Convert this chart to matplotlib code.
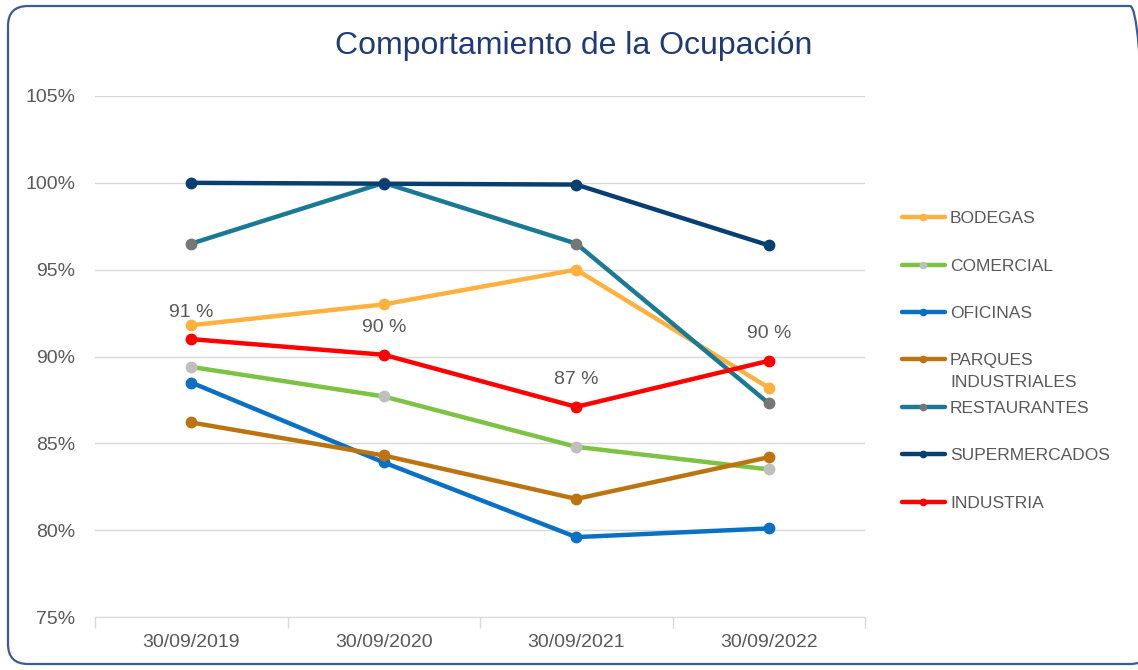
import matplotlib.pyplot as plt
from matplotlib.patches import FancyBboxPatch
from matplotlib.transforms import IdentityTransform
import numpy as np

plt.rcParams['font.family'] = ['Liberation Sans', 'DejaVu Sans']

title = "Comportamiento de la Ocupación"
fechas = ['30/09/2019', '30/09/2020', '30/09/2021', '30/09/2022']

bodegas = [91.8, 93.0, 95.0, 88.2]
comercial = [89.4, 87.7, 84.8, 83.5]
oficinas = [88.5, 83.9, 79.6, 80.1]
parques = [86.2, 84.3, 81.8, 84.2]
restaurantes = [96.5, 100.0, 96.5, 87.3]
supermercados = [100.0, 99.95, 99.9, 96.4]
industria = [91.0, 90.1, 87.1, 89.75]

series = [
    ('BODEGAS', bodegas, '#FFB140', '#FFB140'),
    ('COMERCIAL', comercial, '#7DC243', '#BFBFBF'),
    ('OFICINAS', oficinas, '#0A70C4', '#0A70C4'),
    ('PARQUES', parques, '#BC7410', '#BC7410'),
    ('RESTAURANTES', restaurantes, '#1A7A96', '#767676'),
    ('SUPERMERCADOS', supermercados, '#073F72', '#073F72'),
    ('INDUSTRIA', industria, '#FF0000', '#FF0000'),
]

fig = plt.figure(figsize=(11.38, 6.70), dpi=100)
ax = fig.add_axes([95/1138, 1-617/670, 770/1138, 521/670])

# rounded frame round the whole chart (pixel units, right side runs off the picture)
frame = FancyBboxPatch((8, 6), 1142, 658,
                       boxstyle="round,pad=0,rounding_size=20",
                       transform=IdentityTransform(), fill=False,
                       edgecolor='#3A5A9A', linewidth=1.6, clip_on=False)
fig.add_artist(frame)

x = np.arange(len(fechas))
for name, ys, col, mcol in series:
    ax.plot(x, ys, color=col, lw=3.2, marker='o', markersize=7.5,
            markerfacecolor=mcol, markeredgecolor=mcol, label=name,
            solid_capstyle='round')

for xi, v in zip(x, industria):
    ax.annotate(f"{v:.0f} %", (xi, v), xytext=(0, 19.5), textcoords='offset points',
                ha='center', va='center', fontsize=14, color='#595959')

ax.set_xlim(-0.5, 3.5)
ax.set_ylim(75, 105)
ax.set_yticks(np.arange(75, 106, 5))
ax.set_yticklabels([f"{t}%" for t in range(75, 106, 5)])
ax.set_xticks(x)
ax.set_xticklabels(fechas)
ax.set_xticks(np.arange(-0.5, 4, 1), minor=True)
ax.tick_params(axis='x', which='major', length=0, pad=12, labelsize=14, colors='#595959')
ax.tick_params(axis='x', which='minor', length=8, color='#D9D9D9', width=1)
ax.tick_params(axis='y', length=0, pad=14, labelsize=14, colors='#595959')
ax.grid(axis='y', color='#D9D9D9', lw=1)
ax.set_axisbelow(True)
for s in ['top', 'right', 'left']:
    ax.spines[s].set_visible(False)
ax.spines['bottom'].set_color('#D9D9D9')

fig.text(0.504, 1-46/670, title, ha='center', va='center', fontsize=23, color='#1F3A78')

leg = fig.legend(loc='upper left', bbox_to_anchor=(902/1138, 1-211/670), frameon=False,
                 fontsize=12.5, handlelength=2.47, handletextpad=0.3, labelspacing=1.86,
                 borderpad=0, borderaxespad=0, labelcolor='#595959', markerscale=0.6)

fig.canvas.draw()
for t in leg.get_texts():
    if t.get_text() == 'PARQUES':
        bb = t.get_window_extent()
        fig.text(bb.x0/1138, (bb.y0 - 22)/670, 'INDUSTRIALES', fontsize=12.5,
                 color='#595959', ha='left', va='bottom')

fig.savefig('out.png', dpi=100)
